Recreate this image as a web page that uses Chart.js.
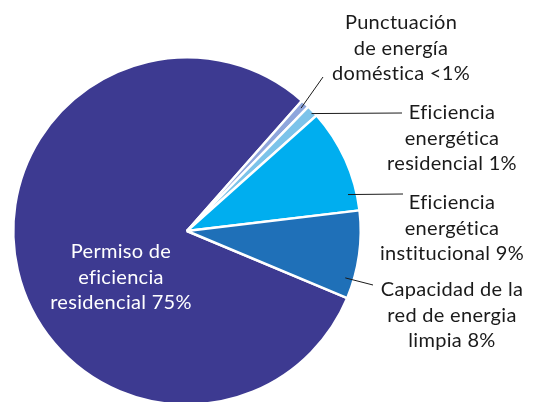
<!DOCTYPE html>
<html>
<head>
<meta charset="utf-8">
<script src="https://cdn.jsdelivr.net/npm/chart.js@4/dist/chart.umd.min.js"></script>
<style>
  html, body { margin: 0; padding: 0; background: #fff; overflow: hidden; }
  #wrap { width: 534px; height: 420px; }
</style>
</head>
<body>
<div id="wrap"><canvas id="pieChart" width="534" height="420"></canvas></div>
<script>
// slice data (shares, labels as printed)
const categories = [
    'Permiso de eficiencia residencial',
    'Punctuación de energía doméstica',
    'Eficiencia energética residencial',
    'Eficiencia energética institucional',
    'Capacidad de la red de energia limpia'
];
const shares = [80.2, 0.8, 1.1, 9.7, 8.2];
const labelLines = [
    ['Permiso de', 'eficiencia', 'residencial 75%'],
    ['Punctuación', 'de energía', 'doméstica <1%'],
    ['Eficiencia', 'energética', 'residencial 1%'],
    ['Eficiencia', 'energética', 'institucional 9%'],
    ['Capacidad de la', 'red de energia', 'limpia 8%']
];
const sliceColors = ['#3d3a91', '#8ea6dc', '#7cc3ea', '#00aeef', '#1f70b8'];

// where each label sits and where its leader line starts on the slice
const labelStyle = [
    { x: 121, y: 252, color: '#ffffff', lead: null },
    { x: 401, y: 23, color: '#1a1a1a', lead: { frac: 0.5, r: 0.965, to: [323, 77] } },
    { x: 452, y: 113, color: '#1a1a1a', lead: { frac: 0.6, r: 0.985, to: [402, 113] } },
    { x: 452, y: 203, color: '#1a1a1a', lead: { frac: 0.83, r: 0.95, to: [403, 194] } },
    { x: 452, y: 290, color: '#1a1a1a', lead: { frac: 0.79, r: 0.95, to: [373, 285] } }
];

const sliceLabels = {
    id: 'sliceLabels',
    afterDraw(chart) {
        const ctx = chart.ctx;
        const arcs = chart.getDatasetMeta(0).data;
        ctx.save();
        ctx.font = '20px Lato, "Open Sans", sans-serif';
        ctx.letterSpacing = '0.3px'; // also stops the fi / ti ligatures
        ctx.textAlign = 'center';
        ctx.textBaseline = 'middle';
        labelStyle.forEach((s, i) => {
            const arc = arcs[i];
            if (s.lead) {
                const a = arc.startAngle + (arc.endAngle - arc.startAngle) * s.lead.frac;
                const r = arc.outerRadius * s.lead.r;
                ctx.beginPath();
                ctx.moveTo(arc.x + r * Math.cos(a), arc.y + r * Math.sin(a));
                ctx.lineTo(s.lead.to[0], s.lead.to[1]);
                ctx.strokeStyle = '#1a1a1a';
                ctx.lineWidth = 1;
                ctx.stroke();
            }
            ctx.fillStyle = s.color;
            labelLines[i].forEach((line, j) => {
                ctx.fillText(line, s.x, s.y + j * 25.5);
            });
        });
        ctx.restore();
    }
};

new Chart(document.getElementById('pieChart').getContext('2d'), {
    type: 'pie',
    data: {
        labels: categories,
        datasets: [{
            data: shares,
            backgroundColor: sliceColors,
            borderColor: '#ffffff',
            borderWidth: 2.5,
            hoverOffset: 0
        }]
    },
    options: {
        responsive: false,
        animation: false,
        rotation: 112.7,
        layout: { padding: { left: 12, top: 56, right: 172, bottom: 14 } },
        plugins: {
            legend: { display: false },
            tooltip: { enabled: false }
        }
    },
    plugins: [sliceLabels]
});
</script>
</body>
</html>
